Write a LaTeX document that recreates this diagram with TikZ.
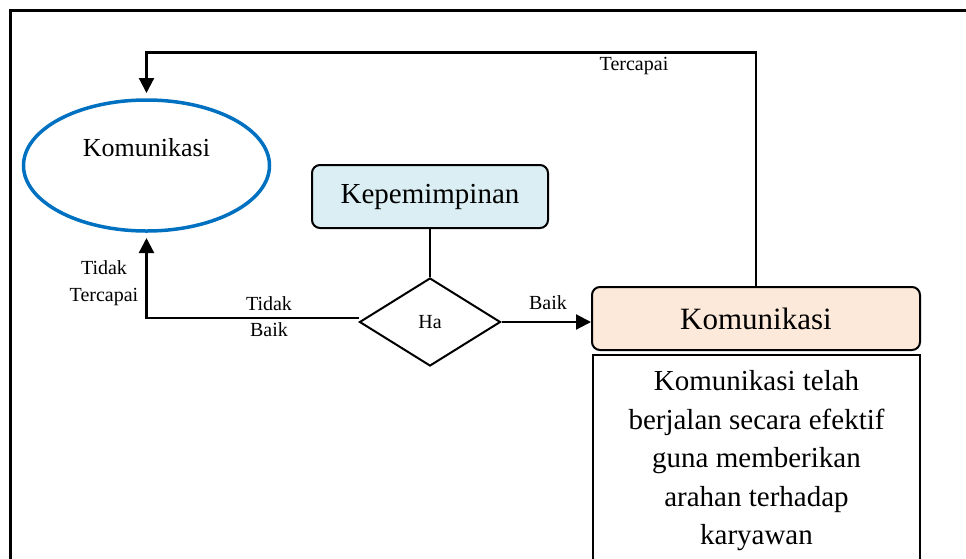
\documentclass[tikz,border=0pt]{standalone}
\usepackage{fontspec}
\setmainfont{Liberation Serif}
\usetikzlibrary{shapes.geometric,arrows.meta}
\definecolor{kepfill}{HTML}{DAEEF3}
\definecolor{komfill}{HTML}{FDE9D9}
\definecolor{ellblue}{HTML}{0070C0}
\begin{document}
\begin{tikzpicture}[x=1pt,y=-1pt,
  conn/.style={line width=2.2pt},
  arr/.style={conn,-{Triangle[length=15pt,width=15pt]}},
  lbl/.style={font=\fontsize{20}{24}\selectfont, inner sep=0},
  rbox/.style={draw, line width=2pt, rounded corners=8pt, inner sep=0, font=\fontsize{29}{35}\selectfont}]
\useasboundingbox (0,0) rectangle (966,558);
% outer frame
\draw[line width=3pt] (10.5,600) -- (10.5,10.5) -- (990,10.5);
% ellipse
\node[ellipse, draw=ellblue, line width=3.5pt, minimum width=246pt, minimum height=131pt, outer sep=7pt] (ell) at (146.5,165.5) {};
\node[font=\fontsize{26}{30}\selectfont, inner sep=0] (elltext) at (146.5,148) {Komunikasi};
% Kepemimpinan
\node[rbox, fill=kepfill, minimum width=236pt, minimum height=63pt] (kep) at (430,196.5) {Kepemimpinan};
% diamond
\node[diamond, draw, line width=2pt, minimum width=141pt, minimum height=88pt, inner sep=0, font=\fontsize{20}{24}\selectfont] (ha) at (430,322) {Ha};
% Komunikasi box
\node[rbox, fill=komfill, minimum width=328pt, minimum height=63pt, font=\fontsize{31}{36}\selectfont] (kom) at (756,318.5) {Komunikasi};
% description box
\node[draw, line width=2pt, minimum width=327pt, minimum height=260pt, anchor=north, inner sep=0] (desc) at (756.5,354) {};
\node[font=\fontsize{29}{38.5}\selectfont, align=center, inner sep=0] (desctext) at (756.5,461) {Komunikasi telah\\berjalan secara efektif\\guna memberikan\\arahan terhadap\\karyawan};
% connectors
\draw[conn] (kep.south) -- (ha.north);
\draw[arr] (ha.east) -- (ha.east -| kom.west);
\draw[arr] ([yshift=4pt]ha.west) -| (ell.south);
\draw[arr] (kom.north) -- (kom.north |- 0,52.5) -| (ell.north);
% labels
\node[lbl] (baik) at (548,303) {Baik};
\node[lbl] (terc) at (634,66) {Tercapai};
\node[lbl] (tb1) at (269,304) {Tidak};
\node[lbl] (tb2) at (269,330) {Baik};
\node[lbl] (tt1) at (104,268) {Tidak};
\node[lbl] (tt2) at (104,297) {Tercapai};
\end{tikzpicture}
\end{document}
